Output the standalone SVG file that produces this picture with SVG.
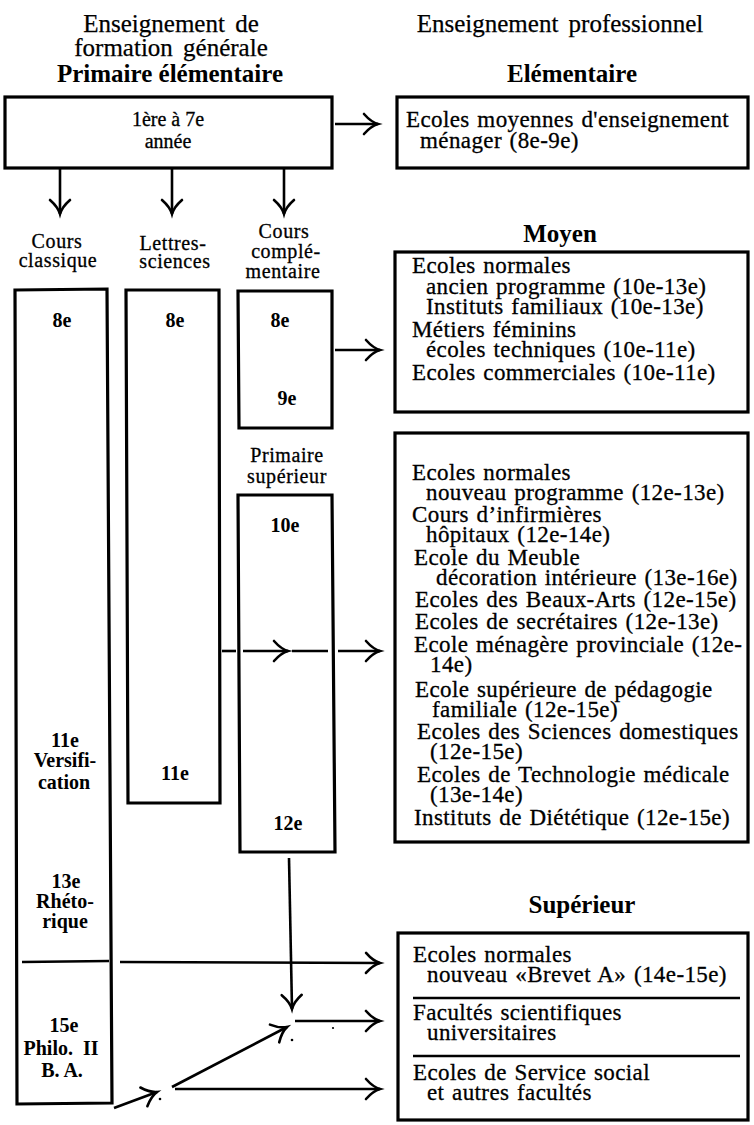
<svg xmlns="http://www.w3.org/2000/svg" width="754" height="1125" viewBox="0 0 754 1125">
<style>
text{font-family:"Liberation Serif","Times New Roman",serif;fill:#000}
.h{font-size:25px;word-spacing:4px;stroke:#000;stroke-width:0.25}
.hb{font-size:25px;font-weight:bold}
.t{font-size:23px;letter-spacing:0.4px;word-spacing:1.5px;stroke:#000;stroke-width:0.3}
.c{font-size:20px;letter-spacing:0.6px;stroke:#000;stroke-width:0.3}
.n{font-size:20px;font-weight:bold}
.b1{font-size:20px;stroke:#000;stroke-width:0.3}
.box{fill:none;stroke:#000;stroke-width:3.2;stroke-linejoin:miter}
.ln{fill:none;stroke:#000;stroke-width:2.6}
.m{text-anchor:middle}
</style>
<defs>
<marker id="ah" markerUnits="userSpaceOnUse" viewBox="-16 -12 18 24" refX="0" refY="0" markerWidth="18" markerHeight="24" orient="auto" overflow="visible">
<path d="M-14,-10 Q-7,-2 0,0 Q-7,2 -14,10" fill="none" stroke="#000" stroke-width="2.6" stroke-linecap="round"/>
</marker>
</defs>

<g id="headers">
<text class="h m" x="171" y="32">Enseignement de</text>
<text class="h m" x="171" y="56">formation générale</text>
<text class="hb m" x="170" y="82">Primaire élémentaire</text>
<text class="h m" x="560" y="32">Enseignement professionnel</text>
<text class="hb m" x="572" y="82">Elémentaire</text>
<text class="hb m" x="560" y="242">Moyen</text>
<text class="hb m" x="582" y="913">Supérieur</text>
</g>

<g id="primaire">
<rect class="box" x="5" y="97" width="327" height="71"/>
<text class="b1 m" x="168" y="126">1ère à 7e</text>
<text class="b1 m" x="168" y="148">année</text>
</g>

<g id="col-labels">
<text class="c m" x="57" y="248">Cours</text>
<text class="c m" x="58" y="267">classique</text>
<text class="c m" x="173" y="250">Lettres-</text>
<text class="c m" x="175" y="268">sciences</text>
<text class="c m" x="284" y="238">Cours</text>
<text class="c m" x="286" y="258">complé-</text>
<text class="c m" x="283" y="278">mentaire</text>
<text class="c m" x="287" y="462">Primaire</text>
<text class="c m" x="287" y="483">supérieur</text>
</g>

<g id="cours-classique">
<polygon class="box" points="15,290 107,289 112,1103 17,1104"/>
<line class="ln" x1="22" y1="962" x2="109" y2="961"/>
<text class="n m" x="62" y="327">8e</text>
<text class="n m" x="65" y="747">11e</text>
<text class="n m" x="65" y="767">Versifi-</text>
<text class="n m" x="64" y="789">cation</text>
<text class="n m" x="66" y="888">13e</text>
<text class="n m" x="65" y="908">Rhéto-</text>
<text class="n m" x="65" y="928">rique</text>
<text class="n m" x="64" y="1032">15e</text>
<text class="n m" x="61" y="1055" style="word-spacing:5px">Philo. II</text>
<text class="n m" x="62" y="1077">B. A.</text>
</g>

<g id="lettres-sciences">
<polygon class="box" points="126,290 219,290 220,803 128,803"/>
<text class="n m" x="175" y="327">8e</text>
<text class="n m" x="175" y="780">11e</text>
</g>

<g id="cours-complementaire">
<polygon class="box" points="238,291 332,291 332,428 239,428"/>
<text class="n m" x="280" y="327">8e</text>
<text class="n m" x="287" y="405">9e</text>
</g>

<g id="primaire-superieur">
<polygon class="box" points="238,495 332,495 335,852 240,852"/>
<text class="n m" x="285" y="532">10e</text>
<text class="n m" x="288" y="830">12e</text>
</g>

<g id="elementaire">
<rect class="box" x="397" y="97" width="351" height="71"/>
<text class="t" x="406" y="127">Ecoles moyennes d'enseignement</text>
<text class="t" x="420" y="148">ménager (8e-9e)</text>
</g>

<g id="moyen-1">
<rect class="box" x="395" y="252" width="353" height="160"/>
<text class="t" x="412" y="273">Ecoles normales</text>
<text class="t" x="426" y="294">ancien programme (10e-13e)</text>
<text class="t" x="426" y="314">Instituts familiaux (10e-13e)</text>
<text class="t" x="412" y="337">Métiers féminins</text>
<text class="t" x="426" y="357">écoles techniques (10e-11e)</text>
<text class="t" x="412" y="380">Ecoles commerciales (10e-11e)</text>
</g>

<g id="moyen-2">
<rect class="box" x="395" y="433" width="353" height="409"/>
<text class="t" x="412" y="480">Ecoles normales</text>
<text class="t" x="426" y="500">nouveau programme (12e-13e)</text>
<text class="t" x="412" y="522">Cours d’infirmières</text>
<text class="t" x="426" y="542">hôpitaux (12e-14e)</text>
<text class="t" x="414" y="565">Ecole du Meuble</text>
<text class="t" x="436" y="585">décoration intérieure (13e-16e)</text>
<text class="t" x="415" y="607">Ecoles des Beaux-Arts (12e-15e)</text>
<text class="t" x="415" y="629">Ecoles de secrétaires (12e-13e)</text>
<text class="t" x="414" y="652">Ecole ménagère provinciale (12e-</text>
<text class="t" x="430" y="672">14e)</text>
<text class="t" x="415" y="697">Ecole supérieure de pédagogie</text>
<text class="t" x="432" y="717">familiale (12e-15e)</text>
<text class="t" x="417" y="739">Ecoles des Sciences domestiques</text>
<text class="t" x="430" y="759">(12e-15e)</text>
<text class="t" x="417" y="782">Ecoles de Technologie médicale</text>
<text class="t" x="430" y="802">(13e-14e)</text>
<text class="t" x="414" y="825">Instituts de Diététique (12e-15e)</text>
</g>

<g id="superieur">
<rect class="box" x="398" y="933" width="350" height="187"/>
<text class="t" x="413" y="962">Ecoles normales</text>
<text class="t" x="427" y="982">nouveau «Brevet A» (14e-15e)</text>
<line class="ln" x1="413" y1="998" x2="740" y2="998"/>
<text class="t" x="413" y="1020">Facultés scientifiques</text>
<text class="t" x="427" y="1040">universitaires</text>
<line class="ln" x1="413" y1="1056" x2="740" y2="1056"/>
<text class="t" x="413" y="1080">Ecoles de Service social</text>
<text class="t" x="427" y="1100">et autres facultés</text>
</g>

<g id="connectors">
<line class="ln" x1="335" y1="124" x2="378" y2="124" marker-end="url(#ah)"/>
<line class="ln" x1="60" y1="168" x2="60" y2="214" marker-end="url(#ah)"/>
<line class="ln" x1="172" y1="168" x2="172" y2="214" marker-end="url(#ah)"/>
<line class="ln" x1="284" y1="168" x2="284" y2="214" marker-end="url(#ah)"/>
<line class="ln" x1="335" y1="350" x2="380" y2="350" marker-end="url(#ah)"/>
<line class="ln" x1="222" y1="651" x2="236" y2="651"/>
<line class="ln" x1="243" y1="651" x2="288" y2="651" marker-end="url(#ah)"/>
<line class="ln" x1="292" y1="651" x2="328" y2="651"/>
<line class="ln" x1="338" y1="651" x2="380" y2="651" marker-end="url(#ah)"/>
<line class="ln" x1="289" y1="858" x2="292" y2="1009" marker-end="url(#ah)"/>
<line class="ln" x1="120" y1="962" x2="380" y2="963" marker-end="url(#ah)"/>
<line class="ln" x1="295" y1="1021" x2="380" y2="1021" marker-end="url(#ah)"/>
<line class="ln" x1="172" y1="1087" x2="287" y2="1027" marker-end="url(#ah)"/>
<line class="ln" x1="175" y1="1089" x2="380" y2="1089" marker-end="url(#ah)"/>
<line class="ln" x1="114" y1="1108" x2="157" y2="1092" marker-end="url(#ah)"/>
<circle cx="160" cy="1099" r="1.3" fill="#000"/>
<circle cx="292" cy="1040" r="1.3" fill="#000"/>
<circle cx="333" cy="1028" r="1.1" fill="#000"/>
</g>
</svg>
